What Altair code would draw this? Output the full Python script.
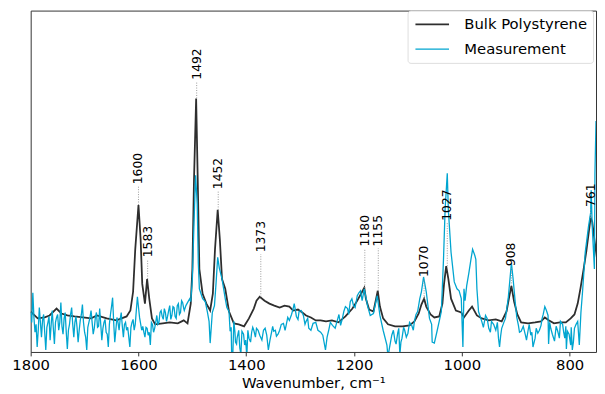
import altair as alt
import pandas as pd

# ---------------- data ----------------
bulk_wn = [1800, 1787, 1774, 1765, 1752, 1743, 1732, 1719, 1703, 1688, 1677, 1659, 1641, 1622,
           1615, 1610, 1606, 1600, 1596, 1593, 1588, 1584, 1580, 1575, 1569, 1555, 1542, 1527,
           1516, 1509, 1503, 1500, 1497, 1493, 1490, 1487, 1481, 1474, 1467, 1462, 1458, 1453,
           1449, 1445, 1439, 1432, 1423, 1414, 1404, 1395, 1386, 1381, 1375, 1366, 1357, 1348,
           1338, 1329, 1320, 1313, 1304, 1296, 1289, 1280, 1271, 1262, 1252, 1241, 1229, 1216,
           1203, 1194, 1185, 1181, 1178, 1172, 1164, 1159, 1156, 1152, 1146, 1137, 1124, 1110,
           1097, 1088, 1080, 1075, 1070, 1066, 1058, 1051, 1042, 1036, 1033, 1029, 1025, 1020,
           1011, 1001, 996, 987, 981, 972, 963, 950, 937, 926, 917, 912, 908, 903, 897, 890,
           877, 864, 853, 846, 838, 829, 818, 807, 798, 791, 785, 780, 774, 769, 765, 761,
           758, 754, 749]
bulk_int = [0.41, 0.34, 0.35, 0.37, 0.44, 0.39, 0.37, 0.36, 0.35, 0.34, 0.37, 0.34, 0.32, 0.36,
            0.42, 0.61, 1.04, 1.49, 1.14, 0.69, 0.49, 0.74, 0.54, 0.34, 0.28, 0.29, 0.30, 0.29,
            0.32, 0.29, 0.49, 0.84, 1.74, 2.57, 1.74, 0.84, 0.59, 0.49, 0.42, 0.59, 1.04, 1.44,
            1.14, 0.74, 0.64, 0.41, 0.29, 0.28, 0.26, 0.34, 0.44, 0.52, 0.56, 0.52, 0.49, 0.47,
            0.45, 0.47, 0.46, 0.42, 0.43, 0.40, 0.37, 0.35, 0.32, 0.32, 0.31, 0.32, 0.30, 0.36,
            0.44, 0.52, 0.61, 0.65, 0.54, 0.43, 0.41, 0.54, 0.62, 0.46, 0.34, 0.28, 0.26, 0.26,
            0.27, 0.31, 0.39, 0.48, 0.54, 0.46, 0.38, 0.35, 0.36, 0.49, 0.69, 0.87, 0.74, 0.54,
            0.42, 0.40, 0.35, 0.42, 0.46, 0.37, 0.34, 0.32, 0.33, 0.31, 0.41, 0.56, 0.67, 0.51,
            0.38, 0.30, 0.29, 0.30, 0.31, 0.35, 0.32, 0.29, 0.30, 0.30, 0.34, 0.38, 0.49, 0.64,
            0.84, 1.02, 1.19, 1.36, 1.32, 1.14, 0.94]

meas_wn = [1800, 1796, 1792, 1788, 1784, 1780, 1776, 1772, 1768, 1764, 1760, 1756, 1752, 1748,
           1744, 1740, 1736, 1732, 1728, 1724, 1720, 1716, 1712, 1708, 1704, 1700, 1696, 1692,
           1688, 1684, 1680, 1676, 1672, 1668, 1664, 1660, 1656, 1652, 1648, 1644, 1640, 1636,
           1632, 1628, 1624, 1620, 1616, 1612, 1608, 1605, 1602, 1598, 1594, 1590, 1586, 1582,
           1578, 1574, 1570, 1566, 1562, 1558, 1554, 1550, 1546, 1542, 1538, 1534, 1530, 1526,
           1522, 1518, 1515, 1512, 1509, 1505, 1503, 1500, 1497, 1494, 1491, 1489, 1487, 1481,
           1476, 1472, 1469, 1467, 1463, 1459, 1456, 1453, 1450, 1445, 1439, 1436, 1432, 1430,
           1427, 1423, 1420, 1417, 1412, 1408, 1403, 1399, 1395, 1390, 1386, 1381, 1375, 1368,
           1362, 1359, 1353, 1349, 1344, 1338, 1331, 1326, 1320, 1313, 1311, 1307, 1302, 1294,
           1289, 1284, 1276, 1267, 1258, 1253, 1247, 1240, 1230, 1225, 1219, 1212, 1207, 1201,
           1194, 1188, 1185, 1181, 1175, 1170, 1164, 1157, 1152, 1146, 1139, 1137, 1130, 1124,
           1119, 1115, 1111, 1106, 1100, 1093, 1088, 1082, 1078, 1075, 1071, 1066, 1060, 1056,
           1055, 1051, 1046, 1038, 1034, 1031, 1027, 1025, 1020, 1014, 1009, 1001, 998, 996,
           991, 987, 983, 980, 976, 974, 972, 969, 963, 956, 950, 945, 937, 932, 930, 926,
           919, 914, 908, 905, 901, 895, 890, 882, 877, 872, 868, 864, 859, 853, 849, 846,
           840, 839, 835, 828, 822, 817, 809, 806, 804, 798, 795, 791, 785, 782, 776, 771,
           765, 761, 760, 758, 754, 753, 751]
meas_int = [0.40, 0.60, 0.20, 0.05, 0.45, 0.15, 0.38, 0.02, 0.30, 0.12, 0.42, 0.08, 0.35, 0.22,
            0.50, 0.18, 0.40, 0.03, 0.28, 0.45, 0.15, 0.36, 0.10, 0.32, 0.48, 0.20, 0.02, 0.30,
            0.42, 0.18, 0.35, 0.25, 0.44, 0.12, 0.30, 0.20, 0.05, 0.38, 0.55, 0.10, 0.35, 0.22,
            0.40, 0.15, 0.30, 0.25, 0.05, 0.30, 0.22, 0.35, 0.56, 0.35, 0.22, 0.20, 0.25, 0.17,
            0.07, 0.28, 0.24, 0.37, 0.30, 0.42, 0.33, 0.40, 0.36, 0.47, 0.37, 0.45, 0.34, 0.49,
            0.40, 0.50, 0.42, 0.47, 0.50, 0.54, 0.51, 0.74, 1.30, 1.79, 1.50, 0.90, 0.64, 0.54,
            0.51, 0.40, 0.31, 0.09, 0.40, 0.47, 0.70, 0.96, 0.85, 0.74, 0.54, 0.45, 0.41, 0.21,
            -0.05, 0.31, 0.10, 0.14, 0.04, 0.21, 0.07, -0.05, 0.14, 0.20, 0.22, 0.24, 0.17, 0.22,
            0.17, 0.02, 0.20, 0.21, 0.16, 0.22, 0.29, 0.27, 0.32, 0.44, 0.49, 0.36, 0.41, 0.37,
            0.31, 0.24, 0.29, 0.22, 0.17, 0.02, 0.22, 0.27, 0.34, 0.27, 0.41, 0.44, 0.51, 0.47,
            0.57, 0.62, 0.52, 0.64, 0.47, 0.37, 0.39, 0.57, 0.37, 0.22, 0.07, -0.05, 0.17, 0.11,
            0.19, -0.03, 0.14, 0.22, 0.19, 0.27, 0.31, 0.41, 0.54, 0.61, 0.76, 0.61, 0.34, 0.28,
            0.10, 0.09, 0.21, 0.41, 0.94, 1.45, 1.81, 1.44, 1.01, 0.71, 0.64, 0.54, 0.05, 0.64,
            0.67, 0.80, 0.94, 1.04, 0.98, 0.94, 0.64, 0.41, 0.31, 0.37, 0.24, 0.31, 0.22, 0.14,
            0.05, 0.24, 0.34, 0.54, 0.90, 0.75, 0.51, 0.27, 0.21, 0.17, 0.22, 0.17, 0.05, 0.14,
            0.19, 0.27, 0.38, 0.46, 0.37, 0.08, 0.24, 0.11, 0.21, 0.31, 0.14, 0.03, 0.21, 0.07,
            0.02, 0.24, 0.31, 0.07, 0.61, 1.01, 1.27, 1.41, 1.64, 1.27, 0.84, 1.81, 2.34]

# extra in-between noise samples of the measurement (merged and ordered by wavenumber)
meas_wn_extra = [1798, 1794, 1790, 1786, 1782, 1778, 1774, 1770, 1766, 1762, 1758, 1754, 1750,
                 1746, 1742, 1738, 1734, 1730, 1726, 1722, 1718, 1714, 1710, 1706, 1702, 1698,
                 1694, 1690, 1686, 1682, 1678, 1674, 1670, 1666, 1662, 1658, 1654, 1650, 1646,
                 1642, 1638, 1634, 1630, 1626, 1622,
                 1614, 1610, 1606, 1592, 1588, 1584, 1580, 1576, 1572, 1568, 1564, 1560, 1556,
                 1552, 1548, 1544, 1540, 1536, 1532, 1528, 1524, 1520, 1516,
                 1428, 1425, 1421, 1418, 1414, 1410, 1405, 1401, 1397, 1392, 1388, 1383, 1378,
                 1371, 1365, 1356, 1351, 1346, 1341, 1335, 1328, 1323, 1316, 1309, 1304, 1298,
                 1291, 1286, 1280, 1271, 1262, 1250, 1244, 1235, 1228, 1222, 1216, 1210, 1204,
                 1198, 1191,
                 1134, 1127, 1122, 1117, 1113, 1108, 1103, 1097, 1090, 1085,
                 1005, 994, 966, 960, 953, 947, 941, 934, 928, 922,
                 898, 893, 886, 880, 875, 870, 862, 856, 851, 843, 837, 832, 825, 819, 813,
                 811, 807, 801, 797, 793, 788, 779]
meas_int_extra = [0.30, 0.35, 0.28, 0.22, 0.30, 0.32, 0.20, 0.25, 0.36, 0.28, 0.24, 0.30, 0.38,
                  0.30, 0.26, 0.34, 0.20, 0.22, 0.38, 0.28, 0.30, 0.25, 0.22, 0.38, 0.30, 0.15,
                  0.25, 0.35, 0.30, 0.24, 0.40, 0.26, 0.28, 0.24, 0.33, 0.18, 0.28, 0.46, 0.30,
                  0.22, 0.30, 0.33, 0.26, 0.28, 0.22,
                  0.25, 0.33, 0.28, 0.26, 0.15, 0.24, 0.20, 0.30, 0.20, 0.30, 0.28, 0.40, 0.36,
                  0.44, 0.31, 0.42, 0.33, 0.46, 0.36, 0.47, 0.38, 0.52, 0.44,
                  0.25, -0.03, 0.20, 0.08, 0.22, -0.02, 0.18, 0.12, 0.22, 0.10, 0.25, 0.15, 0.22,
                  0.12, 0.24, 0.12, 0.26, 0.22, 0.18, 0.28, 0.22, 0.35, 0.38, 0.43, 0.33, 0.42,
                  0.28, 0.34, 0.22, 0.30, 0.20, 0.15, 0.30, 0.24, 0.38, 0.33, 0.46, 0.38, 0.54,
                  0.45, 0.60,
                  0.05, 0.22, 0.08, 0.24, 0.10, 0.25, 0.15, 0.30, 0.22, 0.38,
                  0.62, 0.52, 0.36, 0.25, 0.34, 0.20, 0.28, 0.30, 0.16, 0.30,
                  0.35, 0.20, 0.26, 0.12, 0.28, 0.20, 0.24, 0.22, 0.34, 0.42, 0.30, 0.18, 0.26,
                  0.14, 0.28, 0.20, 0.26, 0.18, 0.25, 0.10, 0.28, 0.40]

peak_wn = [1600, 1583, 1492, 1452, 1373, 1180, 1155, 1070, 1027, 908, 761]
peak_int = [1.49, 0.74, 2.57, 1.44, 0.56, 0.65, 0.62, 0.54, 0.87, 0.67, 1.36]
label_int = [1.70, 0.96, 2.76, 1.65, 1.01, 1.07, 1.07, 0.76, 1.33, 0.87, 1.47]

series_names = ["Bulk Polystyrene", "Measurement"]
series_colors = ["#2e2e2e", "#00a5d0"]
series_widths = [1.8, 1.3]
x_ticks = [1800, 1600, 1400, 1200, 1000, 800]

# ---------------- tables ----------------
df = pd.concat([
    pd.DataFrame({"wn": bulk_wn, "val": bulk_int, "series": series_names[0]}),
    pd.DataFrame({"wn": meas_wn + meas_wn_extra, "val": meas_int + meas_int_extra,
                  "series": series_names[1]}),
], ignore_index=True)

peaks = pd.DataFrame({
    "wn": peak_wn,
    "val": peak_int,
    "top": [v - 0.02 for v in label_int],
    "lab": label_int,
    "text": [str(w) for w in peak_wn],
})

FONT = "DejaVu Sans"
x_scale = alt.Scale(domain=[1800, 751], nice=False, zero=False)
y_scale = alt.Scale(domain=[0, 3.46], nice=False, zero=False)
x_axis = alt.Axis(values=x_ticks, title="Wavenumber, cm⁻¹", grid=False, domain=False,
                  tickSize=4, tickColor="#333333", labelFontSize=15, labelFont=FONT,
                  labelColor="#000000", labelPadding=2, titleFontSize=15, titleFont=FONT,
                  titleFontWeight="normal", titleColor="#000000", titlePadding=3,
                  format="d", labelFlush=False)

lines = alt.Chart(df).mark_line(clip=True).encode(
    x=alt.X("wn:Q", scale=x_scale, axis=x_axis),
    y=alt.Y("val:Q", scale=y_scale, axis=None),
    color=alt.Color("series:N",
                    scale=alt.Scale(domain=series_names, range=series_colors),
                    legend=alt.Legend(title=None, orient="none", legendX=382, legendY=0,
                                      symbolType="M-2.27,0H2.27", symbolSize=225,
                                      symbolStrokeWidth=2, symbolOffset=11,
                                      labelFontSize=15, labelFont=FONT,
                                      labelColor="#000000", labelOffset=24, padding=5.5,
                                      rowPadding=8, fillColor="#ffffff",
                                      strokeColor="#dddddd", cornerRadius=3)),
    strokeWidth=alt.StrokeWidth("series:N",
                                scale=alt.Scale(domain=series_names, range=series_widths),
                                legend=None),
)

rules = alt.Chart(peaks).mark_rule(color="#999999", strokeWidth=1, strokeDash=[1, 1.5]).encode(
    x=alt.X("wn:Q", scale=x_scale, axis=x_axis),
    y=alt.Y("val:Q", scale=y_scale, axis=None),
    y2="top:Q",
)

labels = alt.Chart(peaks).mark_text(angle=270, align="left", baseline="middle",
                                    fontSize=12.5, font=FONT, color="#000000").encode(
    x=alt.X("wn:Q", scale=x_scale, axis=x_axis),
    y=alt.Y("lab:Q", scale=y_scale, axis=None),
    text="text:N",
)

chart = alt.layer(lines, rules, labels).properties(
    width=573, height=346,
    autosize=alt.AutoSizeParams(type="none"),
    padding={"left": 23, "top": 0, "right": 1, "bottom": 42},
).configure_view(stroke="#333333", strokeWidth=1)

chart.save("out.html", embed_options={"renderer": "svg", "actions": False})
